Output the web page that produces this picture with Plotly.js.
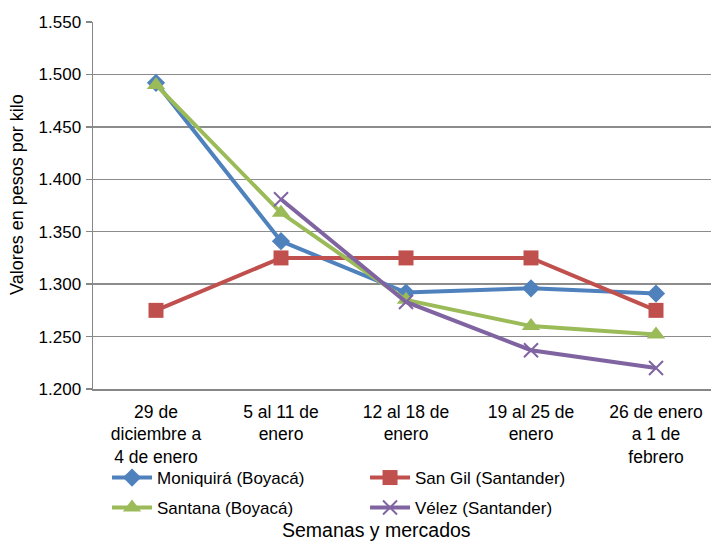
<!DOCTYPE html>
<html>
<head>
<meta charset="utf-8">
<script src="https://cdn.plot.ly/plotly-3.0.1.min.js"></script>
<style>html,body{margin:0;padding:0;background:#fff;}#chart{width:711px;height:543px;}</style>
</head>
<body>
<div id="chart"></div>
<script>
const categories = ["29 de<br>diciembre a<br>4 de enero", "5 al 11 de<br>enero", "12 al 18 de<br>enero", "19 al 25 de<br>enero", "26 de enero<br>a 1 de<br>febrero"];
const moniquira = [1492, 1341, 1292, 1296, 1291];
const sanGil = [1275, 1325, 1325, 1325, 1275];
const santana = [1490, 1368, 1285, 1260, 1252];
const velez = [null, 1381, 1283, 1237, 1220];
const seriesNames = ["Moniquirá (Boyacá)", "San Gil (Santander)", "Santana (Boyacá)", "Vélez (Santander)"];
const yTicks = [1200, 1250, 1300, 1350, 1400, 1450, 1500, 1550];
const xTitle = "Semanas y mercados";
const yTitle = "Valores en pesos por kilo";

const xs = categories.map((c, i) => i);
function tr(name, y, color, symbol, msize, legend) {
  return {
    type: 'scatter', mode: 'lines+markers', name: name, x: xs, y: y, legend: legend,
    line: {color: color, width: 4},
    marker: {color: color, symbol: symbol, size: msize, line: {color: color, width: symbol === 'x-thin' ? 2 : 0}},
    connectgaps: false
  };
}
const data = [
  tr(seriesNames[0], moniquira, '#4F81BD', 'diamond', 14, 'legend'),
  tr(seriesNames[1], sanGil, '#C0504D', 'square', 15, 'legend'),
  tr(seriesNames[2], santana, '#9BBB59', 'triangle-up', 16, 'legend2'),
  tr(seriesNames[3], velez, '#8064A2', 'x-thin', 14, 'legend2')
];
const legendBase = {orientation: 'h', xanchor: 'left', yanchor: 'middle', x: 0.0227,
  entrywidth: 203, entrywidthmode: 'pixels', itemwidth: 40,
  font: {size: 17, color: '#000'}, bgcolor: 'rgba(0,0,0,0)'};
const layout = {
  width: 711, height: 543,
  margin: {l: 93, r: 0, t: 22, b: 154},
  paper_bgcolor: '#fff', plot_bgcolor: '#fff',
  separators: ',.',
  font: {family: 'Liberation Sans, Arial, sans-serif', size: 16, color: '#000'},
  showlegend: true,
  legend: Object.assign({}, legendBase, {y: (389 - 478) / 367}),
  legend2: Object.assign({}, legendBase, {y: (389 - 508) / 367}),
  xaxis: {
    tickmode: 'array', tickvals: xs, ticktext: categories,
    range: [-0.504, 4.44], showgrid: false, zeroline: false,
    showline: true, linecolor: '#868686', linewidth: 1.5, ticks: '',
    ticklabelstandoff: 6,
    tickfont: {size: 17.5, color: '#000'}
  },
  yaxis: {
    range: [1200, 1550], tickvals: yTicks,
    tickformat: ',d', showgrid: true, gridcolor: '#8c8c8c', gridwidth: 1.5,
    zeroline: false, showline: true, linecolor: '#868686', linewidth: 1.5,
    ticks: 'outside', ticklen: 6, tickcolor: '#868686', tickwidth: 1.5,
    ticklabelstandoff: 1,
    tickfont: {size: 17, color: '#000'}
  },
  annotations: [
    {text: xTitle, xref: 'paper', yref: 'paper', x: (376 - 93) / 618, y: (389 - 530) / 367,
     xanchor: 'center', yanchor: 'middle', showarrow: false, font: {size: 19.5, color: '#000'}},
    {text: yTitle, xref: 'paper', yref: 'paper', x: (17 - 93) / 618, y: (389 - 195) / 367,
     xanchor: 'center', yanchor: 'middle', textangle: -90, showarrow: false, font: {size: 18, color: '#000'}}
  ]
};
Plotly.newPlot('chart', data, layout, {displayModeBar: false, staticPlot: true});
</script>
</body>
</html>
